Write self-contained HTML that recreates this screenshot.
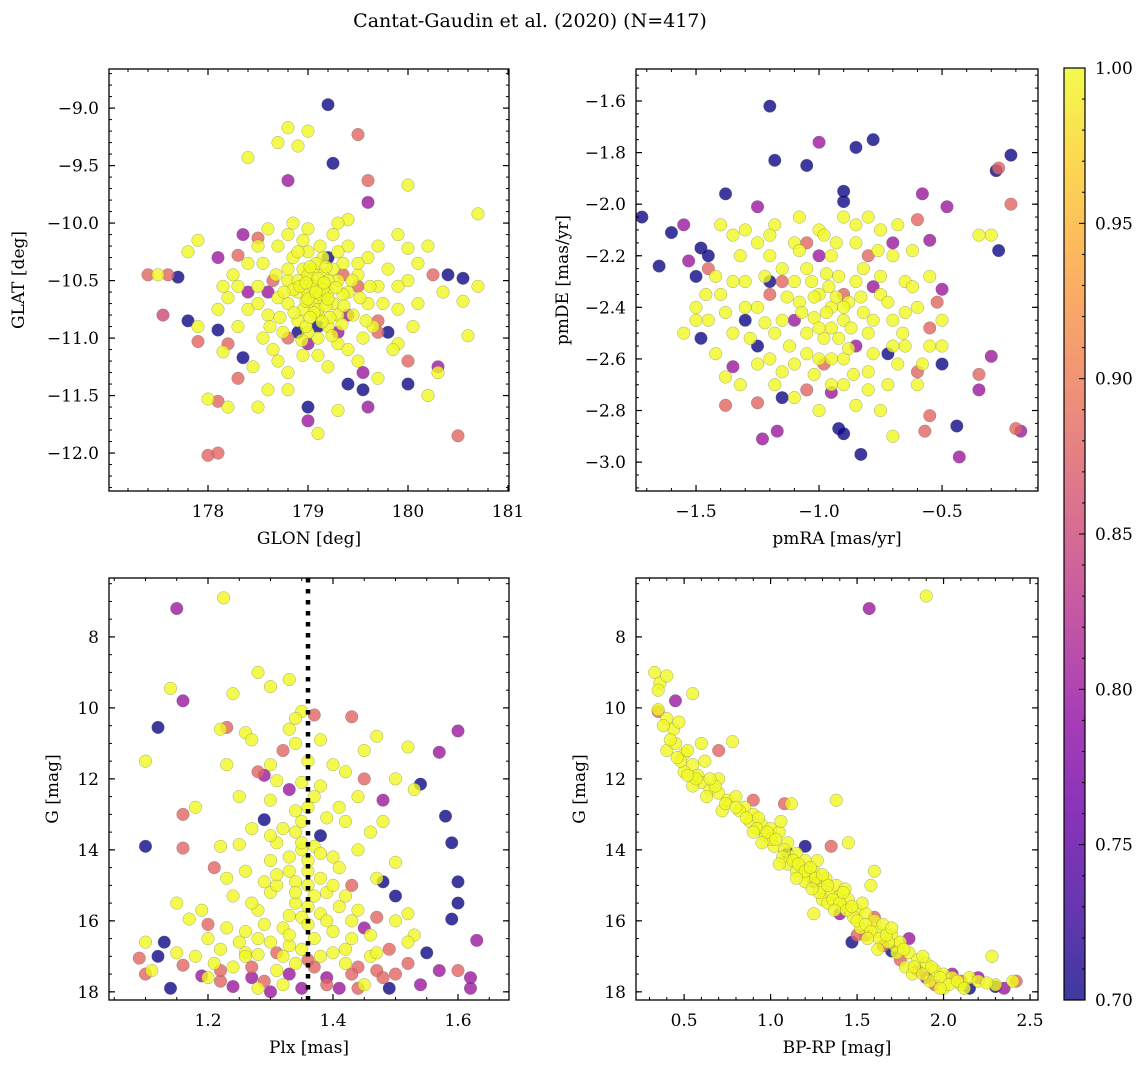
<!DOCTYPE html>
<html><head><meta charset="utf-8"><style>
body{margin:0;background:#fff;}
svg{display:block;font-family:"DejaVu Serif","Liberation Serif",serif;}
</style></head><body>
<svg id="fig" width="1148" height="1068" viewBox="0 0 1148 1068" xmlns="http://www.w3.org/2000/svg">
<defs><linearGradient id="cbg" x1="0" y1="1" x2="0" y2="0">
<stop offset="0" stop-color="#0d0887"/><stop offset="0.1" stop-color="#41049d"/><stop offset="0.2" stop-color="#6a00a8"/><stop offset="0.3" stop-color="#8f0da4"/><stop offset="0.4" stop-color="#b12a90"/><stop offset="0.5" stop-color="#cc4778"/><stop offset="0.6" stop-color="#e16462"/><stop offset="0.7" stop-color="#f2844b"/><stop offset="0.8" stop-color="#fca636"/><stop offset="0.9" stop-color="#fcce25"/><stop offset="1" stop-color="#f0f921"/>
</linearGradient></defs>
<text x="530" y="27" font-size="19" text-anchor="middle">Cantat-Gaudin et al. (2020) (N=417)</text>
</svg>
<script>
const posData=[[179.2,-8.97,0.7],[178.8,-9.17,1],[179.0,-9.2,1],[179.5,-9.23,0.88],[178.7,-9.3,1],[178.9,-9.33,1],[179.25,-9.48,0.7],[178.4,-9.43,1],[179.6,-9.63,0.88],[178.8,-9.63,0.8],[180.0,-9.67,1],[180.7,-9.92,1],[179.6,-9.82,0.8],[179.4,-9.97,1],[178.85,-10.0,1],[179.0,-10.05,1],[179.9,-10.1,1],[177.9,-10.15,1],[178.35,-10.1,0.8],[178.5,-10.13,0.88],[177.8,-10.25,1],[180.2,-10.2,1],[180.0,-10.22,1],[178.1,-10.3,0.8],[178.3,-10.28,0.88],[177.4,-10.45,0.88],[177.5,-10.45,1],[177.7,-10.47,0.7],[177.6,-10.45,0.88],[177.55,-10.8,0.85],[177.8,-10.85,0.7],[177.9,-10.9,1],[177.9,-11.03,0.88],[178.1,-10.93,0.7],[178.2,-11.05,0.88],[178.15,-11.12,1],[178.35,-11.17,0.7],[178.3,-11.35,0.88],[178.1,-11.55,0.88],[178.0,-11.53,1],[178.2,-11.6,1],[178.0,-12.02,0.88],[178.1,-12.0,0.88],[178.5,-11.6,1],[178.6,-11.45,1],[178.8,-11.45,1],[179.0,-11.6,0.7],[179.0,-11.72,0.8],[179.1,-11.83,1],[179.3,-11.63,1],[179.4,-11.4,0.7],[179.55,-11.45,0.7],[179.6,-11.6,0.8],[179.7,-11.35,1],[179.9,-11.05,1],[180.0,-11.2,0.88],[180.0,-11.4,0.7],[180.2,-11.5,1],[180.3,-11.25,0.8],[180.3,-11.3,1],[180.5,-11.85,0.88],[180.6,-10.98,1],[180.4,-10.45,0.7],[180.55,-10.48,0.7],[180.7,-10.55,1],[180.55,-10.68,1],[180.25,-10.45,0.88],[180.35,-10.6,1],[180.0,-10.5,1],[180.1,-10.7,1],[179.8,-10.95,0.7],[179.7,-10.85,0.88],
[179.0,-10.5,1],[179.1,-10.55,1],[179.2,-10.6,1],[178.9,-10.6,1],[179.05,-10.7,1],[179.15,-10.45,1],[178.95,-10.4,1],[179.3,-10.5,1],[179.25,-10.7,1],[178.8,-10.5,1],[178.7,-10.65,1],[179.4,-10.6,1],[179.5,-10.45,1],[179.1,-10.8,1],[178.9,-10.85,1],[179.2,-10.9,1],[178.6,-10.8,1],[179.6,-10.7,1],[179.35,-10.35,1],[178.85,-10.3,1],[179.0,-10.25,1],[179.45,-10.8,1],[178.75,-10.95,1],[179.1,-11.0,1],[178.5,-10.55,1],[179.7,-10.55,1],[178.4,-10.75,1],[179.8,-10.4,1],[178.55,-10.35,1],[179.3,-11.05,1],[178.65,-11.1,1],[178.95,-11.15,1],[179.55,-11.0,1],[178.3,-10.9,1],[179.9,-10.75,1],[178.2,-10.65,1],[179.0,-10.6,1],[179.1,-10.65,1],[179.2,-10.5,1],[179.05,-10.4,1],[178.95,-10.75,1],[179.3,-10.8,1],[178.8,-10.7,1],[179.15,-10.3,1],[179.4,-10.2,1],[178.7,-10.2,1],[179.6,-10.3,1],[178.45,-11.25,1],[179.2,-11.25,1],[178.8,-11.3,1],[179.5,-11.2,1],[179.85,-11.1,1],[178.25,-10.45,1],[180.1,-10.35,1],[178.15,-10.55,1],[179.65,-10.9,1],[178.6,-10.05,1],[179.3,-10.0,1],[179.0,-10.95,1],[178.9,-10.5,1],[179.25,-10.4,1],[179.1,-10.75,1],[179.0,-10.45,1],[179.12,-10.62,1],[178.98,-10.68,1],[179.18,-10.72,1],[179.08,-10.35,1],[178.85,-10.58,1],[179.35,-10.62,1],[179.22,-10.82,1],
[179.2,-10.3,0.7],[178.9,-10.95,0.7],[179.0,-11.05,0.8],[179.3,-10.95,0.8],[178.6,-10.6,0.8],[179.5,-10.55,0.88],[178.8,-11.0,0.88],[179.4,-10.8,0.8],[178.4,-10.6,0.8],[179.7,-10.95,0.88]];
const posCore=[[179.05,-10.55,1],[179.15,-10.58,1],[179.1,-10.48,1],[179.0,-10.66,1],[179.2,-10.66,1],[178.92,-10.55,1],[179.28,-10.56,1],[179.06,-10.78,1],[179.14,-10.86,1],[178.98,-10.9,1],[179.24,-10.98,1],[178.86,-10.78,1],[178.76,-10.6,1],[178.68,-10.45,1],[179.36,-10.72,1],[179.44,-10.5,1],[179.52,-10.65,1],[179.02,-10.38,1],[179.12,-10.2,1],[178.9,-10.25,1],[179.3,-10.25,1],[179.18,-10.38,1],[178.8,-10.4,1],[178.62,-10.9,1],[178.5,-10.7,1],[179.62,-10.55,1],[179.75,-10.7,1],[178.7,-11.2,1],[179.1,-11.15,1],[179.4,-11.1,1],[178.3,-10.55,1],[178.4,-10.35,1],[179.9,-10.55,1],[178.98,-10.52,1],[179.08,-10.6,1],[179.16,-10.52,1],[179.02,-10.82,1],[178.94,-11.02,1],[179.34,-10.88,1],[178.72,-10.82,1],[179.5,-10.35,1],[178.95,-10.15,1],[179.58,-10.85,1],[178.55,-11.0,1],[180.05,-10.9,1],[178.1,-10.75,1],[179.7,-10.2,1],[178.5,-10.2,1],[179.25,-10.1,1],[178.8,-10.1,1],[179.55,-11.3,0.8],[178.65,-10.5,0.88],[179.1,-10.9,0.7],[179.35,-10.45,0.88]];
const pmData=[[-1.72,-2.05,0.7],[-1.65,-2.24,0.7],[-1.2,-1.62,0.7],[-1.0,-1.76,0.8],[-0.78,-1.75,0.7],[-0.85,-1.78,0.7],[-1.18,-1.83,0.7],[-1.05,-1.85,0.7],[-0.22,-1.81,0.7],[-0.27,-1.86,0.88],[-0.28,-1.87,0.7],[-0.9,-1.95,0.7],[-0.9,-1.99,0.7],[-1.38,-1.96,0.7],[-0.58,-1.96,0.8],[-1.55,-2.08,0.8],[-1.6,-2.11,0.7],[-1.25,-2.01,0.8],[-0.48,-2.01,0.8],[-0.22,-2.0,0.88],[-0.6,-2.06,0.88],[-0.3,-2.12,1],[-0.55,-2.14,0.8],[-1.48,-2.17,0.7],[-1.45,-2.2,0.7],[-1.53,-2.22,0.8],[-0.27,-2.18,0.7],[-1.45,-2.25,0.88],[-1.5,-2.28,0.7],[-0.5,-2.33,0.8],[-0.52,-2.38,0.88],[-1.5,-2.4,1],[-1.48,-2.52,0.7],[-1.3,-2.45,0.7],[-0.55,-2.48,0.88],[-0.5,-2.62,0.7],[-1.35,-2.63,0.8],[-1.38,-2.78,0.88],[-1.25,-2.77,0.88],[-1.15,-2.75,0.7],[-1.05,-2.72,0.88],[-0.95,-2.73,0.8],[-0.92,-2.87,0.7],[-0.9,-2.89,0.7],[-0.83,-2.97,0.7],[-1.17,-2.88,0.8],[-1.23,-2.91,0.8],[-0.7,-2.9,1],[-0.55,-2.82,0.88],[-0.57,-2.88,0.88],[-0.44,-2.86,0.7],[-0.43,-2.98,0.8],[-0.2,-2.87,0.88],[-0.18,-2.88,0.8],[-0.3,-2.59,0.8],[-0.35,-2.66,0.88],[-0.35,-2.72,0.8],[-0.72,-2.58,0.7],[-0.6,-2.65,0.88],[-1.4,-2.08,1],[-1.55,-2.5,1],[-1.38,-2.67,1],[-1.2,-2.3,0.7],[-0.65,-2.55,1],[-0.75,-2.8,1],[-0.35,-2.12,1],
[-0.95,-2.4,1],[-1.0,-2.35,1],[-0.9,-2.45,1],[-1.05,-2.5,1],[-0.85,-2.3,1],[-1.1,-2.3,1],[-0.8,-2.5,1],[-1.15,-2.45,1],[-0.95,-2.2,1],[-0.9,-2.6,1],[-1.2,-2.2,1],[-0.75,-2.35,1],[-1.25,-2.4,1],[-0.7,-2.45,1],[-1.0,-2.6,1],[-1.1,-2.15,1],[-0.85,-2.15,1],[-1.3,-2.3,1],[-0.65,-2.3,1],[-1.35,-2.5,1],[-0.6,-2.4,1],[-1.2,-2.6,1],[-0.8,-2.65,1],[-1.0,-2.1,1],[-0.9,-2.05,1],[-1.25,-2.15,1],[-0.7,-2.2,1],[-1.4,-2.35,1],[-0.75,-2.1,1],[-1.15,-2.65,1],[-0.95,-2.7,1],[-1.05,-2.25,1],[-0.88,-2.38,1],[-0.98,-2.52,1],[-1.08,-2.38,1],[-0.82,-2.42,1],[-1.28,-2.52,1],[-0.68,-2.62,1],[-1.32,-2.2,1],[-0.62,-2.18,1],[-1.45,-2.45,1],[-0.55,-2.55,1],[-1.18,-2.08,1],[-0.8,-2.05,1],[-1.35,-2.12,1],[-0.6,-2.7,1],[-1.1,-2.75,1],[-0.85,-2.78,1],[-1.42,-2.58,1],[-0.5,-2.45,1],[-0.96,-2.32,1],[-1.02,-2.44,1],[-0.92,-2.28,1],[-1.12,-2.55,1],[-0.78,-2.58,1],[-0.72,-2.7,1],
[-1.0,-2.2,0.8],[-0.9,-2.35,0.88],[-1.1,-2.45,0.8],[-0.8,-2.2,0.88],[-1.2,-2.35,0.88],[-0.7,-2.15,0.8]];
const pmCore=[[-0.97,-2.42,1],[-0.93,-2.36,1],[-1.03,-2.3,1],[-0.87,-2.48,1],[-1.07,-2.42,1],[-0.92,-2.52,1],[-1.0,-2.48,1],[-0.83,-2.36,1],[-1.13,-2.36,1],[-0.97,-2.27,1],[-1.05,-2.58,1],[-0.88,-2.56,1],[-0.78,-2.45,1],[-1.18,-2.5,1],[-0.93,-2.15,1],[-1.08,-2.18,1],[-0.82,-2.25,1],[-1.22,-2.28,1],[-0.72,-2.38,1],[-1.3,-2.4,1],[-0.66,-2.5,1],[-1.25,-2.62,1],[-0.86,-2.66,1],[-1.02,-2.66,1],[-0.95,-2.6,1],[-1.15,-2.25,1],[-0.75,-2.28,1],[-0.98,-2.12,1],[-1.3,-2.1,1],[-0.68,-2.08,1],[-0.62,-2.32,1],[-1.38,-2.42,1],[-1.42,-2.28,1],[-0.58,-2.62,1],[-1.32,-2.7,1],[-0.8,-2.72,1],[-1.0,-2.8,1],[-1.2,-2.12,1],[-1.08,-2.05,1],[-0.85,-2.08,1],[-0.95,-2.48,1],[-1.02,-2.36,1],[-0.9,-2.4,1],[-1.1,-2.62,1],[-0.7,-2.55,1],[-0.65,-2.42,1],[-1.22,-2.46,1],[-1.35,-2.3,1],[-0.76,-2.18,1],[-0.55,-2.28,1],[-1.46,-2.35,1],[-1.5,-2.45,1],[-1.18,-2.7,1],[-0.9,-2.7,1],[-0.5,-2.55,1],[-1.05,-2.15,0.88],[-0.85,-2.55,0.8],[-1.25,-2.55,0.7],[-0.98,-2.62,0.88],[-0.78,-2.32,0.8],[-1.15,-2.3,0.88]];
const plxData=[[1.225,6.9,1],[1.15,7.2,0.8],[1.16,9.8,0.8],[1.14,9.45,1],[1.24,9.6,1],[1.28,9.0,1],[1.3,9.4,1],[1.33,9.2,1],[1.35,10.1,1],[1.34,10.3,1],[1.1,11.5,1],[1.12,10.55,0.7],[1.23,10.55,0.88],[1.22,10.6,1],[1.26,10.7,1],[1.37,10.2,0.88],[1.43,10.25,0.88],[1.38,10.9,1],[1.47,10.8,1],[1.52,11.1,1],[1.6,10.65,0.8],[1.57,11.25,0.8],[1.58,13.05,0.7],[1.59,13.8,0.7],[1.6,14.9,0.7],[1.6,15.5,0.7],[1.59,15.95,0.7],[1.1,13.9,0.7],[1.16,13.0,0.88],[1.16,13.95,0.88],[1.18,12.8,1],[1.21,14.5,0.88],[1.15,15.5,1],[1.17,15.95,1],[1.2,16.1,0.88],[1.23,11.6,1],[1.28,11.8,0.88],[1.29,11.9,0.8],[1.3,12.6,1],[1.25,12.5,1],[1.22,13.9,1],[1.25,13.85,1],[1.29,13.15,0.7],[1.3,14.3,1],[1.31,12.05,1],[1.33,12.3,0.8],[1.36,12.8,1],[1.38,12.2,1],[1.4,11.6,1],[1.42,11.8,1],[1.45,11.2,1],[1.45,12.0,0.88],[1.48,12.6,0.8],[1.5,12.0,1],[1.53,12.3,1],[1.54,12.15,0.7],[1.38,13.6,0.7],[1.4,14.2,1],[1.42,13.2,1],[1.44,14.0,1],[1.46,13.5,1],[1.47,14.8,1],[1.5,14.35,1],[1.48,14.9,0.7],[1.5,15.3,0.7],[1.52,15.8,1],[1.53,16.4,1],[1.34,13.5,1],[1.35,14.0,1],[1.33,14.6,1],[1.36,15.0,1],[1.34,15.5,1],[1.32,16.2,1],[1.37,16.5,1],[1.38,15.8,1],[1.39,15.2,1],[1.41,15.6,1],[1.43,16.0,1],[1.42,16.8,1],[1.44,17.3,0.88],[1.46,16.4,1],[1.3,15.2,1],[1.28,15.7,1],[1.26,16.3,1],[1.24,15.3,1],[1.26,14.6,1],[1.22,16.8,1],[1.2,16.5,1],[1.18,17.0,1],[1.15,16.9,1],[1.13,16.6,0.7],[1.1,16.6,1],[1.12,17.0,0.7],[1.1,17.5,0.88],[1.11,17.4,1],[1.09,17.05,0.88],[1.14,17.9,0.7],[1.16,17.25,0.88],[1.19,17.55,0.8],[1.22,17.7,0.88],[1.24,17.85,0.8],[1.27,17.3,0.88],[1.29,17.7,0.88],[1.3,18.0,0.8],[1.33,17.5,0.8],[1.35,17.9,0.8],[1.37,17.3,0.88],[1.39,17.6,0.8],[1.41,17.9,0.8],[1.43,17.5,0.88],[1.45,17.8,1],[1.47,17.4,0.88],[1.49,17.9,0.7],[1.5,17.5,0.88],[1.52,17.2,0.88],[1.54,17.8,0.8],[1.55,16.9,0.7],[1.57,17.4,0.8],[1.6,17.4,0.88],[1.62,17.6,0.8],[1.63,16.55,0.8],[1.62,17.9,0.8],[1.26,16.9,1],[1.3,16.6,1],[1.32,17.0,1],[1.35,16.8,1],[1.4,16.9,1],[1.36,17.1,0.88],[1.28,16.95,1],[1.33,15.85,1],[1.36,14.3,1],[1.38,14.8,1],[1.31,13.8,1],[1.35,13.2,1],[1.37,12.5,1],[1.32,11.2,0.88],[1.34,11.0,1],[1.27,10.9,1],[1.45,16.2,0.8],[1.47,15.9,0.88],[1.43,15.0,0.88],[1.49,16.8,0.88],[1.52,16.6,1],[1.34,14.9,1],[1.36,15.6,1],[1.33,16.7,1],[1.35,12.1,1],[1.39,13.1,1],[1.31,15.0,1],[1.4,16.3,1],[1.29,16.1,1],[1.37,13.9,1]];
const plxCore=[[1.34,12.9,1],[1.35,13.8,1],[1.33,14.2,1],[1.36,14.6,1],[1.34,15.2,1],[1.35,15.9,1],[1.33,16.4,1],[1.36,16.1,1],[1.32,13.4,1],[1.37,15.3,1],[1.31,14.7,1],[1.38,14.1,1],[1.3,13.6,1],[1.39,16.0,1],[1.29,14.9,1],[1.4,15.0,1],[1.28,16.5,1],[1.41,14.5,1],[1.27,15.5,1],[1.42,15.3,1],[1.26,17.0,1],[1.43,16.5,1],[1.25,16.6,1],[1.44,15.7,1],[1.23,16.2,1],[1.46,17.0,1],[1.21,17.2,1],[1.24,17.3,1],[1.31,17.4,1],[1.34,17.2,1],[1.38,17.0,1],[1.42,17.2,1],[1.19,15.7,1],[1.23,14.8,1],[1.27,13.4,1],[1.41,12.8,1],[1.44,12.5,1],[1.3,11.6,1],[1.33,10.6,1],[1.36,11.5,1],[1.48,13.2,1],[1.5,16.0,1],[1.47,16.9,1],[1.2,17.6,1],[1.32,17.8,1],[1.28,17.9,1],[1.39,17.8,0.88],[1.27,17.6,0.8],[1.44,17.9,0.88],[1.31,16.9,0.88],[1.22,17.4,0.88],[1.48,17.6,0.88]];
const cmdData=[[0.33,9.0,1],[0.36,9.3,1],[0.4,9.1,1],[0.35,9.5,1],[0.35,10.05,1],[0.4,10.3,1],[0.44,10.6,1],[0.38,10.5,1],[0.47,10.4,1],[0.45,9.8,0.8],[0.55,9.6,1],[0.4,11.2,1],[0.45,11.0,1],[0.5,11.3,1],[0.52,11.2,1],[0.55,11.6,1],[0.5,11.8,1],[0.58,11.9,1],[0.6,12.1,1],[0.55,12.2,1],[0.65,12.3,1],[0.7,12.4,1],[0.62,11.5,1],[0.7,12.0,1],[0.75,12.6,1],[0.8,12.5,1],[0.78,10.95,1],[0.72,12.9,1],[0.85,12.8,1],[0.9,13.0,1],[0.88,13.2,1],[0.95,13.3,1],[1.0,13.4,1],[0.97,13.6,1],[1.05,13.5,1],[1.1,13.8,1],[1.02,13.9,1],[1.08,14.0,1],[1.12,14.2,1],[1.15,14.1,1],[1.1,14.4,1],[1.18,14.5,1],[1.2,14.3,1],[1.22,14.7,1],[1.25,14.6,1],[1.2,14.9,1],[1.28,14.9,1],[1.3,15.1,1],[1.32,14.8,1],[1.35,15.2,1],[1.3,15.4,1],[1.38,15.0,1],[1.4,15.3,1],[1.42,15.6,1],[1.45,15.4,1],[1.5,15.7,1],[1.48,15.9,1],[1.55,15.8,1],[1.6,16.0,1],[1.52,16.2,1],[1.62,16.3,1],[1.65,16.1,1],[1.7,16.4,1],[1.72,16.7,1],[1.75,16.6,1],[1.8,16.9,1],[1.85,17.1,1],[1.78,17.3,1],[1.9,17.2,1],[1.95,17.4,1],[2.0,17.5,1],[1.92,17.7,1],[2.05,17.6,1],[2.1,17.8,1],[2.0,17.9,1],[2.15,17.6,1],[2.2,17.7,1],[2.3,17.8,1],[2.4,17.7,1],[2.28,17.0,1],[1.9,6.85,1],[1.12,12.7,1],[1.38,12.6,1],[1.45,13.8,1],[1.6,14.6,1],[1.58,15.0,1],[1.25,15.8,1],[0.42,10.9,1],[0.6,11.0,1],[0.68,12.2,1],[0.82,12.9,1],[0.93,13.1,1],[1.0,13.7,1],[1.06,13.2,1],[1.15,14.6,1],[1.27,14.3,1],[1.33,15.5,1],[1.43,15.1,1],[1.53,15.5,1],[1.68,16.6,1],[1.82,17.5,1],
[1.57,7.2,0.8],[0.35,10.1,0.88],[0.7,11.2,0.88],[0.9,12.6,0.88],[1.08,12.7,0.88],[1.2,13.9,0.7],[1.35,13.9,0.88],[1.47,16.6,0.7],[1.6,15.9,0.88],[1.7,16.85,0.7],[1.8,16.5,0.8],[1.85,17.4,0.88],[1.95,17.8,0.88],[2.05,17.5,0.8],[2.2,17.6,0.8],[2.3,17.85,0.7],[2.35,17.9,0.8],[2.42,17.7,0.88],[1.5,16.4,0.88],[1.65,16.7,0.88],[1.75,17.1,0.88],[2.15,17.9,0.7]];
const cmdCore=[[0.48,11.5,1],[0.57,12.0,1],[0.63,12.5,1],[0.74,12.7,1],[0.8,12.8,1],[0.86,13.1,1],[0.92,13.4,1],[0.98,13.5,1],[1.03,13.7,1],[1.07,14.2,1],[1.13,14.3,1],[1.16,14.4,1],[1.2,14.6,1],[1.23,14.5,1],[1.26,14.8,1],[1.28,15.2,1],[1.33,15.0,1],[1.36,15.4,1],[1.4,15.5,1],[1.44,15.7,1],[1.47,15.6,1],[1.5,16.0,1],[1.55,16.1,1],[1.58,16.3,1],[1.63,16.5,1],[1.67,16.4,1],[1.73,16.9,1],[1.77,16.8,1],[1.83,17.3,1],[1.88,17.5,1],[1.93,17.3,1],[1.98,17.6,1],[2.03,17.8,1],[2.08,17.7,1],[2.12,17.9,1],[2.25,17.75,1],[0.95,13.8,1],[1.05,14.4,1],[1.15,14.8,1],[1.3,14.7,1],[1.42,15.2,1],[1.37,15.7,1],[1.56,16.5,1],[1.7,16.2,1],[0.65,12.0,1],[0.52,11.9,1],[0.46,11.4,1],[0.9,13.5,1],[1.24,15.1,1],[1.62,16.8,1],[1.88,17.0,1],[1.98,17.9,1],[1.1,14.1,0.7],[1.25,14.9,0.88],[1.4,15.8,0.8],[1.55,16.4,0.88],[1.9,17.6,0.8],[2.1,17.7,0.88]];
const plxMedian=[1.36];
const p1XTicks=[178,179,180,181], p1YTicks=[-9.0,-9.5,-10.0,-10.5,-11.0,-11.5,-12.0];
const p2XTicks=[-1.5,-1.0,-0.5], p2YTicks=[-1.6,-1.8,-2.0,-2.2,-2.4,-2.6,-2.8,-3.0];
const p3XTicks=[1.2,1.4,1.6], gTicks=[8,10,12,14,16,18];
const p4XTicks=[0.5,1.0,1.5,2.0,2.5];
const cbTicks=[0.70,0.75,0.80,0.85,0.90,0.95,1.00];

const NS='http://www.w3.org/2000/svg';
const svg=document.getElementById('fig');
function mk(tag,attrs,parent){const e=document.createElementNS(NS,tag);for(const k in attrs)e.setAttribute(k,attrs[k]);(parent||svg).appendChild(e);return e;}
const stops=[[13,8,135],[65,4,157],[106,0,168],[143,13,164],[177,42,144],[204,71,120],[225,100,98],[242,132,75],[252,166,54],[252,206,37],[240,249,33]];
function plasma(p){let t=Math.max(0,Math.min(1,(p-0.7)/0.3))*10;const i=Math.min(9,Math.floor(t)),f=t-i;const a=stops[i],b=stops[i+1];return 'rgb('+[0,1,2].map(k=>Math.round(a[k]+(b[k]-a[k])*f)).join(',')+')';}
function fmt(v,d){return v.toFixed(d).replace('-','\u2212');}

function panel(o){
  const g=mk('g',{});
  
  
  const L=o.box[0],T=o.box[1],R=o.box[2],B=o.box[3];
  const sx=v=>L+(v-o.xr[0])/(o.xr[1]-o.xr[0])*(R-L);
  const sy=v=>o.inv? T+(v-o.yr[0])/(o.yr[1]-o.yr[0])*(B-T) : B-(v-o.yr[0])/(o.yr[1]-o.yr[0])*(B-T);
  const pts=o.data.slice().sort((a,b)=>a[2]-b[2]);
  pts.forEach(d=>{const c=mk('circle',{cx:sx(d[0]),cy:sy(d[1]),r:6.3,fill:plasma(d[2]),'fill-opacity':0.8,stroke:'#666','stroke-width':0.4,'stroke-opacity':0.7},g);
    
    });
  if(o.vline){const l=mk('line',{x1:sx(o.vline),x2:sx(o.vline),y1:T,y2:B,stroke:'#000','stroke-width':4.5,'stroke-dasharray':'4.5 6.5'},g);
    
    }
  const ax=mk('g',{},g);
  
  
  const lo=Math.min(o.xr[0],o.xr[1]),hi=Math.max(o.xr[0],o.xr[1]);
  for(let v=Math.ceil(lo/o.xm-1e-6)*o.xm;v<=hi+1e-9;v+=o.xm){const x=sx(v);mk('line',{x1:x,x2:x,y1:B,y2:B-3,stroke:'#000','stroke-width':1},ax);mk('line',{x1:x,x2:x,y1:T,y2:T+3,stroke:'#000','stroke-width':1},ax);}
  const ylo=Math.min(o.yr[0],o.yr[1]),yhi=Math.max(o.yr[0],o.yr[1]);
  for(let v=Math.ceil(ylo/o.ym-1e-6)*o.ym;v<=yhi+1e-9;v+=o.ym){const y=sy(v);mk('line',{x1:L,x2:L+3,y1:y,y2:y,stroke:'#000','stroke-width':1},ax);mk('line',{x1:R,x2:R-3,y1:y,y2:y,stroke:'#000','stroke-width':1},ax);}
  o.xt.forEach(v=>{const x=sx(v);mk('line',{x1:x,x2:x,y1:B,y2:B-6,stroke:'#000','stroke-width':1.2},ax);mk('line',{x1:x,x2:x,y1:T,y2:T+6,stroke:'#000','stroke-width':1.2},ax);
    const t=mk('text',{x:x,y:B+26,'font-size':17,'text-anchor':'middle'},ax);t.textContent=fmt(v,o.xd);
    
    });
  o.yt.forEach(v=>{const y=sy(v);mk('line',{x1:L,x2:L+6,y1:y,y2:y,stroke:'#000','stroke-width':1.2},ax);mk('line',{x1:R,x2:R-6,y1:y,y2:y,stroke:'#000','stroke-width':1.2},ax);
    const t=mk('text',{x:L-10,y:y+6,'font-size':17,'text-anchor':'end'},ax);t.textContent=fmt(v,o.yd);
    
    });
  mk('rect',{x:L,y:T,width:R-L,height:B-T,fill:'none',stroke:'#000','stroke-width':1.3},ax);
  const xl=mk('text',{x:(L+R)/2,y:B+53,'font-size':17,'text-anchor':'middle'},ax);xl.textContent=o.xlab;
  
  
  const yl=mk('text',{x:0,y:0,'font-size':17,'text-anchor':'middle',transform:'translate('+o.ylx+','+((T+B)/2)+') rotate(-90)'},ax);yl.textContent=o.ylab;
  
  
}
panel({name:'sky-position-panel',box:[109,69,509,491],xr:[177.01,181.01],yr:[-12.33,-8.66],data:posData.concat(posCore),xt:p1XTicks,yt:p1YTicks,xd:0,yd:1,xm:0.2,ym:0.1,xlab:'GLON [deg]',ylab:'GLAT [deg]',ylx:24});
panel({name:'proper-motion-panel',box:[636,69,1038,491],xr:[-1.744,-0.11],yr:[-3.112,-1.476],data:pmData.concat(pmCore),xt:p2XTicks,yt:p2YTicks,xd:1,yd:1,xm:0.1,ym:0.05,xlab:'pmRA [mas/yr]',ylab:'pmDE [mas/yr]',ylx:568});
panel({name:'parallax-magnitude-panel',box:[109,578,509,1000],xr:[1.0416,1.6816],yr:[6.34,18.23],inv:true,data:plxData.concat(plxCore),xt:p3XTicks,yt:gTicks,xd:1,yd:0,xm:0.05,ym:0.5,xlab:'Plx [mas]',ylab:'G [mag]',ylx:58,vline:plxMedian[0]});
panel({name:'color-magnitude-panel',box:[636,578,1038,1000],xr:[0.222,2.546],yr:[6.34,18.23],inv:true,data:cmdData.concat(cmdCore),xt:p4XTicks,yt:gTicks,xd:1,yd:0,xm:0.1,ym:0.5,xlab:'BP-RP [mag]',ylab:'G [mag]',ylx:585});
const cb=mk('g',{});


const CT=68,CB=1000,CL=1064,CR=1085;
mk('rect',{x:CL,y:CT,width:CR-CL,height:CB-CT,fill:'url(#cbg)','fill-opacity':0.8},cb);
const cy=v=>CB-(v-0.7)/0.3*(CB-CT);
for(let i=70;i<=100;i++){const y=cy(i/100);mk('line',{x1:CR,x2:CR-(i%5?3:6),y1:y,y2:y,stroke:'#000','stroke-width':1},cb);}
cbTicks.forEach(v=>{const t=mk('text',{x:CR+10,y:cy(v)+6,'font-size':17},cb);t.textContent=v.toFixed(2);
  
  });
mk('rect',{x:CL,y:CT,width:CR-CL,height:CB-CT,fill:'none',stroke:'#000','stroke-width':1.2},cb);
</script>
</body></html>
